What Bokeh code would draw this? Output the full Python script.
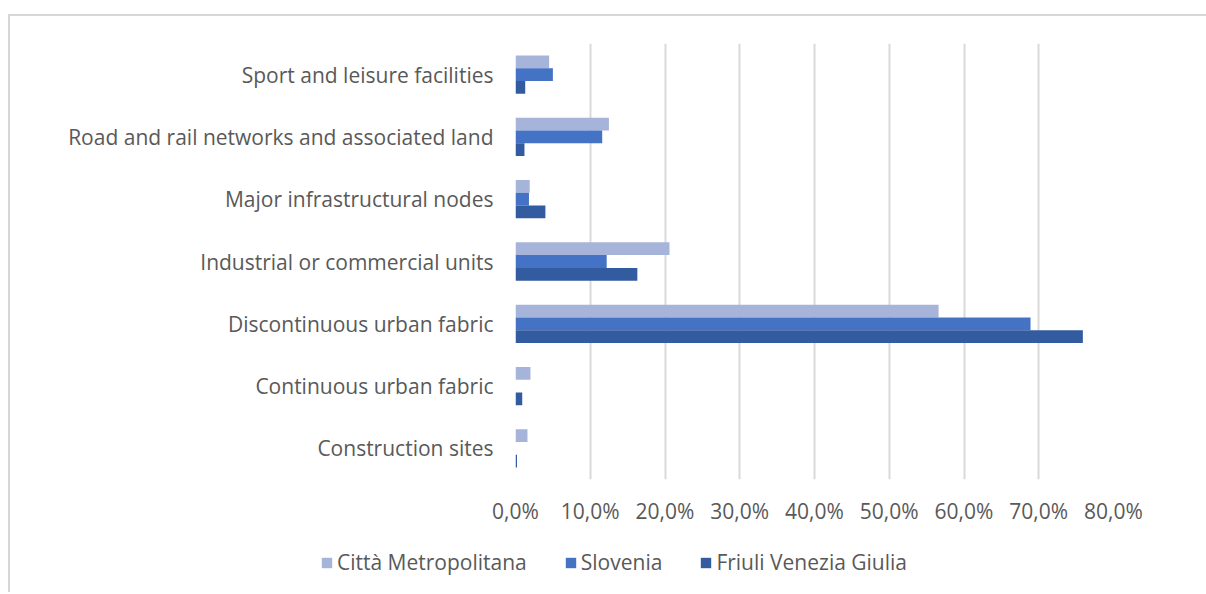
from bokeh.plotting import figure
from bokeh.layouts import column, row
from bokeh.models import FactorRange, Range1d, Legend, LegendItem, FixedTicker, ColumnDataSource
from bokeh.transform import dodge
from bokeh.embed import file_html
from bokeh.resources import INLINE

categories = [
    "Sport and leisure facilities",
    "Road and rail networks and associated land",
    "Major infrastructural nodes",
    "Industrial or commercial units",
    "Discontinuous urban fabric",
    "Continuous urban fabric",
    "Construction sites",
]
series_names = ["Città Metropolitana", "Slovenia", "Friuli Venezia Giulia"]
citta = [4.5, 12.5, 1.9, 20.6, 56.6, 2.0, 1.6]
slovenia = [5.0, 11.6, 1.8, 12.2, 68.9, 0.0, 0.0]
friuli = [1.3, 1.2, 4.0, 16.3, 75.9, 0.9, 0.2]
x_ticks = [0, 10, 20, 30, 40, 50, 60, 70, 80]
tick_labels = ["0,0%", "10,0%", "20,0%", "30,0%", "40,0%", "50,0%", "60,0%", "70,0%", "80,0%"]

colors = ["#A7B4DA", "#4472C4", "#335B9F"]
text_color = "#595959"
FONT = "Open Sans"
FS = "21px"

W, H, HL = 1196, 530, 46
factors = list(reversed(categories))
cols = ["citta", "slovenia", "friuli"]
src = ColumnDataSource(dict(cat=categories, citta=citta, slovenia=slovenia, friuli=friuli))
bh = 0.205
offsets = [bh, 0.0, -bh]

p = figure(
    width=W, height=H,
    y_range=FactorRange(factors=factors, range_padding=0),
    x_range=Range1d(0, 80),
    output_backend="svg", toolbar_location=None,
    min_border_left=505, min_border_right=93, min_border_top=27, min_border_bottom=H - 463,
)
p.outline_line_color = None

for col, off, c in zip(cols, offsets, colors):
    p.hbar(y=dodge("cat", off, range=p.y_range), left=0, right=col, height=bh,
           source=src, fill_color=c, line_color=None)

p.ygrid.grid_line_color = None
p.xgrid.grid_line_color = "#d9d9d9"
p.xgrid.grid_line_width = 2
p.xgrid.ticker = FixedTicker(ticks=x_ticks)

p.xaxis.ticker = FixedTicker(ticks=x_ticks)
p.xaxis.major_label_overrides = {t: l for t, l in zip(x_ticks, tick_labels)}
for ax in (p.xaxis[0], p.yaxis[0]):
    ax.axis_line_color = None
    ax.major_tick_line_color = None
    ax.minor_tick_line_color = None
    ax.major_label_text_font = FONT
    ax.major_label_text_font_size = FS
    ax.major_label_text_color = text_color
p.xaxis.major_label_standoff = 11
p.yaxis.major_label_standoff = 16

# legend strip (separate figure so the legend is not clipped by the chart frame)
pl = figure(
    width=W, height=HL,
    y_range=FactorRange(factors=factors), x_range=Range1d(0, 80),
    output_backend="svg", toolbar_location=None,
    min_border_left=0, min_border_right=0, min_border_top=0, min_border_bottom=0,
    x_axis_location=None, y_axis_location=None,
)
pl.outline_line_color = None
pl.grid.visible = False
leg_rs = []
for col, off, c in zip(cols, offsets, colors):
    r = pl.hbar(y=dodge("cat", off, range=pl.y_range), left=0, right=col, height=bh,
                source=src, fill_color=c, line_color=None, visible=False)
    leg_rs.append(r)

legend = Legend(
    items=[LegendItem(label=n, renderers=[r]) for n, r in zip(series_names, leg_rs)],
    orientation="horizontal", location=(310, 16),
    label_text_font=FONT, label_text_font_size=FS, label_text_color=text_color,
    glyph_width=13, glyph_height=13, label_standoff=4, spacing=37,
    padding=0, margin=0, border_line_color=None, background_fill_alpha=0,
    inactive_fill_alpha=0,
)
pl.add_layout(legend, "center")

layout = column(p, row(pl), spacing=0,
                styles={"border-top": "2px solid #d6d6d6", "border-left": "2px solid #d6d6d6",
                        "margin-top": "14px", "margin-left": "8px"})

open("out.html", "w").write(file_html(layout, INLINE))
